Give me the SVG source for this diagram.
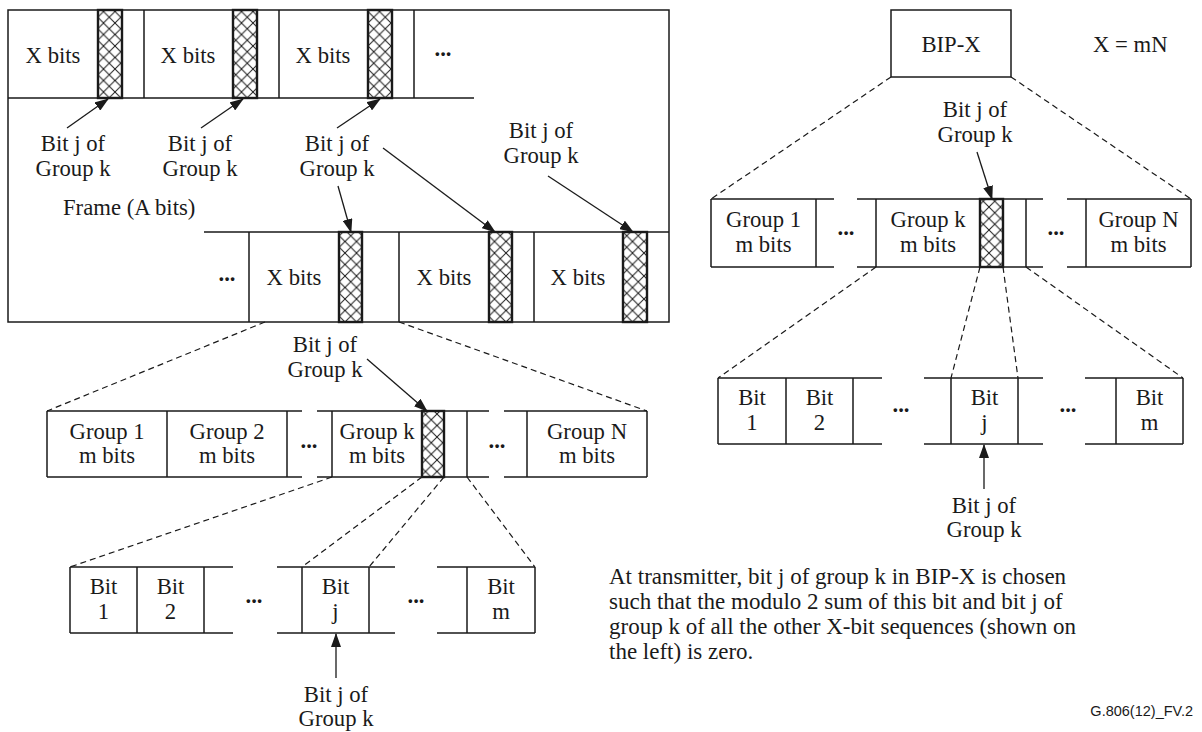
<svg xmlns="http://www.w3.org/2000/svg" width="1202" height="732" viewBox="0 0 1202 732">
<style>
.ln{stroke:#1a1a1a;stroke-width:1.5;fill:none}
.bx{stroke:#1a1a1a;stroke-width:1.5;fill:none}
.dash{stroke:#1a1a1a;stroke-width:1.2;stroke-dasharray:6 4;fill:none}
.arr{stroke:#1a1a1a;stroke-width:1.3;fill:none;marker-end:url(#ah)}
.hx{fill:url(#xh);stroke:#1a1a1a;stroke-width:2.4}
.t{font-family:"Liberation Serif","Times New Roman",serif;font-size:22.7px;fill:#1a1a1a;text-anchor:middle}
.ts{font-family:"Liberation Serif","Times New Roman",serif;font-size:22.7px;fill:#1a1a1a}
.d{font-family:"Liberation Serif","Times New Roman",serif;font-size:22.7px;font-weight:bold;fill:#1a1a1a;text-anchor:middle}
.p{font-family:"Liberation Serif","Times New Roman",serif;font-size:23px;fill:#1a1a1a}
.id{font-family:"Liberation Sans",Arial,sans-serif;font-size:14.5px;fill:#1a1a1a;text-anchor:end}
</style>
<defs>
<pattern id="xh" width="11.5" height="11.5" patternUnits="userSpaceOnUse">
<rect width="11.5" height="11.5" fill="#fff"/>
<path d="M0,0L11.5,11.5M11.5,0L0,11.5" stroke="#1a1a1a" stroke-width="1"/>
</pattern>
<marker id="ah" markerUnits="userSpaceOnUse" markerWidth="14" markerHeight="10" refX="13" refY="5" orient="auto">
<path d="M0,0L14,5L0,10z" fill="#1a1a1a"/>
</marker>
</defs>
<rect width="1202" height="732" fill="#fff"/>

<g id="frame">
<rect class="bx" x="8" y="10" width="661" height="312"/>
<path class="ln" d="M8,98H474M144,10V98M279,10V98M414,10V98"/>
<rect class="hx" x="98" y="10" width="24" height="88"/>
<rect class="hx" x="233" y="10" width="24" height="88"/>
<rect class="hx" x="368" y="10" width="24" height="88"/>
<text class="t" x="53" y="63">X bits</text>
<text class="t" x="188" y="63">X bits</text>
<text class="t" x="323" y="63">X bits</text>
<text class="d" x="443" y="56">...</text>
<path class="ln" d="M204,232H669M249,232V322M399,232V322M534,232V322"/>
<rect class="hx" x="339" y="232" width="23" height="90"/>
<rect class="hx" x="489" y="232" width="23" height="90"/>
<rect class="hx" x="623" y="232" width="24" height="90"/>
<text class="t" x="294" y="285">X bits</text>
<text class="t" x="444" y="285">X bits</text>
<text class="t" x="578" y="285">X bits</text>
<text class="d" x="227" y="281">...</text>
<text class="ts" x="63" y="215">Frame (A bits)</text>
</g>

<g id="frame-labels">
<text class="t" x="73" y="151">Bit j of</text><text class="t" x="73" y="176">Group k</text>
<text class="t" x="200" y="151">Bit j of</text><text class="t" x="200" y="176">Group k</text>
<text class="t" x="337" y="151">Bit j of</text><text class="t" x="337" y="176">Group k</text>
<text class="t" x="541" y="138">Bit j of</text><text class="t" x="541" y="163">Group k</text>
</g>

<g id="left-groups">
<path class="ln" d="M47,411H302M317,411H489M504,411H647M47,477H302M317,477H489M504,477H647M47,411V477M167,411V477M287,411V477M332,411V477M467,411V477M527,411V477M647,411V477"/>
<rect class="hx" x="422" y="411" width="22" height="66"/>
<text class="t" x="107" y="439">Group 1</text><text class="t" x="107" y="463">m bits</text>
<text class="t" x="227" y="439">Group 2</text><text class="t" x="227" y="463">m bits</text>
<text class="t" x="377" y="439">Group k</text><text class="t" x="377" y="463">m bits</text>
<text class="t" x="587" y="439">Group N</text><text class="t" x="587" y="463">m bits</text>
<text class="d" x="309" y="448">...</text>
<text class="d" x="497" y="448">...</text>
<text class="t" x="325" y="352">Bit j of</text><text class="t" x="325" y="377">Group k</text>
</g>

<g id="left-bits">
<path class="ln" d="M70,567H233M277,567H395M437,567H535M70,633H233M277,633H395M437,633H535M70,567V633M137,567V633M204,567V633M302,567V633M369,567V633M467,567V633M535,567V633"/>
<text class="t" x="103.5" y="594">Bit</text><text class="t" x="103.5" y="619">1</text>
<text class="t" x="170.5" y="594">Bit</text><text class="t" x="170.5" y="619">2</text>
<text class="t" x="335.5" y="594">Bit</text><text class="t" x="335.5" y="619">j</text>
<text class="t" x="501" y="594">Bit</text><text class="t" x="501" y="619">m</text>
<text class="d" x="254" y="603">...</text>
<text class="d" x="416" y="603">...</text>
<text class="t" x="336" y="702">Bit j of</text><text class="t" x="336" y="726">Group k</text>
</g>

<g id="bip">
<rect class="bx" x="891" y="10" width="120" height="67"/>
<text class="t" x="951" y="52">BIP-X</text>
<text class="ts" x="1093" y="52">X = mN</text>
</g>

<g id="right-groups">
<path class="ln" d="M711,199H834M857,199H1043M1067,199H1191M711,267H834M857,267H1043M1067,267H1191M711,199V267M816,199V267M876,199V267M1026,199V267M1086,199V267M1191,199V267"/>
<rect class="hx" x="980" y="199" width="23" height="68"/>
<text class="t" x="763.5" y="227">Group 1</text><text class="t" x="763.5" y="252">m bits</text>
<text class="t" x="928" y="227">Group k</text><text class="t" x="928" y="252">m bits</text>
<text class="t" x="1138.5" y="227">Group N</text><text class="t" x="1138.5" y="252">m bits</text>
<text class="d" x="846" y="235">...</text>
<text class="d" x="1056" y="235">...</text>
<text class="t" x="975" y="117">Bit j of</text><text class="t" x="975" y="142">Group k</text>
</g>

<g id="right-bits">
<path class="ln" d="M718,378H882M924,378H1043M1085,378H1183M718,444H882M924,444H1043M1085,444H1183M718,378V444M786,378V444M853,378V444M951,378V444M1018,378V444M1116,378V444M1183,378V444"/>
<text class="t" x="752" y="405">Bit</text><text class="t" x="752" y="430">1</text>
<text class="t" x="819.5" y="405">Bit</text><text class="t" x="819.5" y="430">2</text>
<text class="t" x="984.5" y="405">Bit</text><text class="t" x="984.5" y="430">j</text>
<text class="t" x="1149.5" y="405">Bit</text><text class="t" x="1149.5" y="430">m</text>
<text class="d" x="901" y="412">...</text>
<text class="d" x="1068" y="412">...</text>
<text class="t" x="984" y="513">Bit j of</text><text class="t" x="984" y="537">Group k</text>
</g>

<g id="note">
<text class="p" x="609" y="584">At transmitter, bit j of group k in BIP-X is chosen</text>
<text class="p" x="609" y="609">such that the modulo 2 sum of this bit and bit j of</text>
<text class="p" x="609" y="634">group k of all the other X-bit sequences (shown on</text>
<text class="p" x="609" y="659">the left) is zero.</text>
<text class="id" x="1193" y="716">G.806(12)_FV.2</text>
</g>

<g id="connectors">
<path class="dash" d="M265,322L47,411M399,322L647,411"/>
<path class="dash" d="M332,477L70,567M422,477L302,567M444,477L369,567M467,477L535,567"/>
<path class="dash" d="M891,77L711,199M1011,77L1191,199"/>
<path class="dash" d="M876,267L718,378M980,267L951,378M1003,267L1018,378M1026,267L1183,378"/>
<path class="arr" d="M67,128L108,99"/>
<path class="arr" d="M201,128L243,99"/>
<path class="arr" d="M337,128L380,99"/>
<path class="arr" d="M338,186L351,232"/>
<path class="arr" d="M383,148L495,232"/>
<path class="arr" d="M548,176L633,232"/>
<path class="arr" d="M367,359L427,411"/>
<path class="arr" d="M336,678L336,634"/>
<path class="arr" d="M977,152L992,199"/>
<path class="arr" d="M984,489L984,445"/>
</g>
</svg>
